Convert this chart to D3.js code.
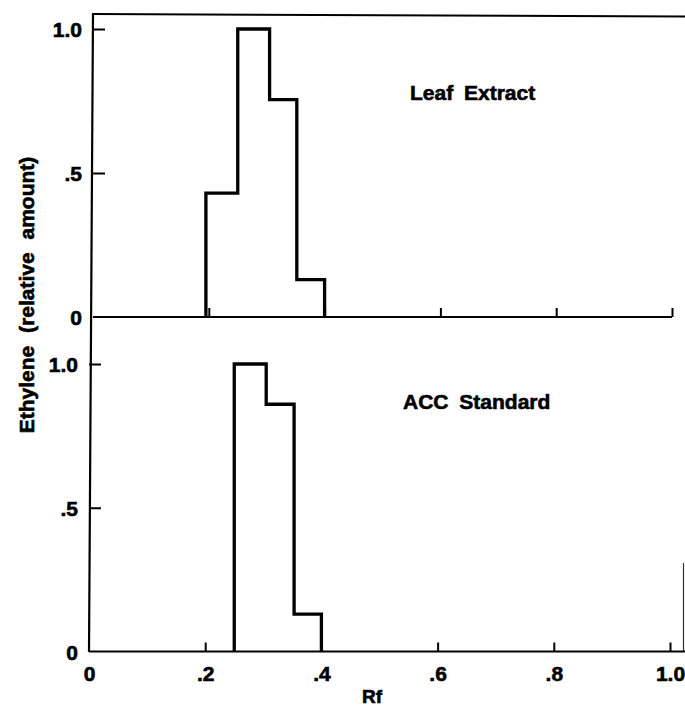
<!DOCTYPE html>
<html>
<head>
<meta charset="utf-8">
<script src="https://cdn.jsdelivr.net/npm/d3@7"></script>
<style>
  body { margin: 0; background: #fff; }
  svg { display: block; }
  text { font-family: "Liberation Sans", Arial, Helvetica, sans-serif; font-weight: bold; fill: #000; stroke: #000; stroke-width: 0.6px; }
</style>
</head>
<body>
<svg id="chart" width="685" height="707"></svg>
<script>
// ---- data ----
const panelNames = ["Leaf Extract", "ACC Standard"];
// bin edges (Rf) and step heights (relative amount)
const leafEdges = [0.195, 0.25, 0.305, 0.352, 0.40];
const leafValues = [0.43, 1.0, 0.755, 0.13];
const accEdges = [0.25, 0.305, 0.353, 0.40];
const accValues = [1.0, 0.86, 0.13];
const xTickValues = [0, 0.2, 0.4, 0.6, 0.8, 1.0];
const xTickLabels = ["0", ".2", ".4", ".6", ".8", "1.0"];
const yTickValues = [0, 0.5, 1.0];
const yTickLabels = ["0", ".5", "1.0"];
const xTitle = "Rf";
const yTitle = "Ethylene (relative amount)";

const svg = d3.select("#chart");

const panels = [
  { name: panelNames[0], edges: leafEdges, values: leafValues,
    x: d3.scaleLinear().domain([0, 1]).range([93, 672]),
    y: d3.scaleLinear().domain([0, 1]).range([317, 29]),
    labelPos: [410, 100], baseEnd: 672, showXLabels: false },
  { name: panelNames[1], edges: accEdges, values: accValues,
    x: d3.scaleLinear().domain([0, 1]).range([89, 670]),
    y: d3.scaleLinear().domain([0, 1]).range([651.5, 364]),
    labelPos: [403, 409], baseEnd: 685, showXLabels: true }
];

// frame top line and continuous left axis
svg.append("line").attr("x1", 93).attr("y1", 14).attr("x2", 685).attr("y2", 16.5)
  .attr("stroke", "#000").attr("stroke-width", 2);
svg.append("line").attr("x1", 93).attr("y1", 13).attr("x2", 89).attr("y2", 652)
  .attr("stroke", "#000").attr("stroke-width", 2.2);
// partial right frame edge (bottom panel)
svg.append("line").attr("x1", 683.5).attr("y1", 563).attr("x2", 683.5).attr("y2", 652)
  .attr("stroke", "#333").attr("stroke-width", 1.2);

panels.forEach(p => {
  const g = svg.append("g");
  const x0 = p.x(0);
  // baseline
  g.append("line").attr("x1", x0).attr("x2", p.baseEnd)
    .attr("y1", p.y(0)).attr("y2", p.y(0))
    .attr("stroke", "#000").attr("stroke-width", 2.2);

  // y axis (inward ticks, labels on left)
  const yAxis = d3.axisLeft(p.y).tickValues(yTickValues).tickSize(0).tickPadding(0)
    .tickFormat((d, i) => yTickLabels[i]);
  const ya = g.append("g").attr("transform", `translate(${x0},0)`).call(yAxis);
  ya.select(".domain").remove();
  ya.selectAll(".tick text").attr("x", -11).attr("dy", "0.36em")
    .style("font-size", "21px").style("font-family", "'Liberation Sans', Arial, sans-serif")
    .style("font-weight", "bold").style("stroke", "#000").style("stroke-width", "0.6px");
  ya.selectAll(".tick").filter(d => d > 0).append("line")
    .attr("x1", 0).attr("x2", 12).attr("stroke", "#000").attr("stroke-width", 2);

  // x axis ticks pointing up into plot
  const xAxis = d3.axisBottom(p.x).tickValues(xTickValues).tickSize(0).tickPadding(0)
    .tickFormat((d, i) => p.showXLabels ? xTickLabels[i] : "");
  const xa = g.append("g").attr("transform", `translate(0,${p.y(0)})`).call(xAxis);
  xa.select(".domain").remove();
  xa.selectAll(".tick").filter(d => d > 0).append("line")
    .attr("y1", 0).attr("y2", -9).attr("stroke", "#000").attr("stroke-width", 2);
  xa.selectAll(".tick text").attr("y", 29).attr("dy", "0")
    .style("font-size", "21px").style("font-family", "'Liberation Sans', Arial, sans-serif")
    .style("font-weight", "bold").style("stroke", "#000").style("stroke-width", "0.6px");

  // step histogram outline
  const pts = [[p.edges[0], 0]];
  p.values.forEach((v, i) => { pts.push([p.edges[i], v]); pts.push([p.edges[i + 1], v]); });
  pts.push([p.edges[p.edges.length - 1], 0]);
  const line = d3.line().x(d => p.x(d[0])).y(d => p.y(d[1]));
  g.append("path").datum(pts).attr("d", line)
    .attr("fill", "none").attr("stroke", "#000").attr("stroke-width", 3.3)
    .attr("stroke-linejoin", "miter");

  // panel label
  g.append("text").attr("x", p.labelPos[0]).attr("y", p.labelPos[1])
    .style("font-size", "21px").style("word-spacing", "5px").text(p.name);
});

// axis titles
svg.append("text").attr("x", 372).attr("y", 703).attr("text-anchor", "middle")
  .style("font-size", "19px").text(xTitle);
svg.append("text").attr("transform", "translate(34,295) rotate(-90)")
  .attr("text-anchor", "middle").style("font-size", "21px").style("word-spacing", "7px")
  .text(yTitle);
</script>
</body>
</html>
